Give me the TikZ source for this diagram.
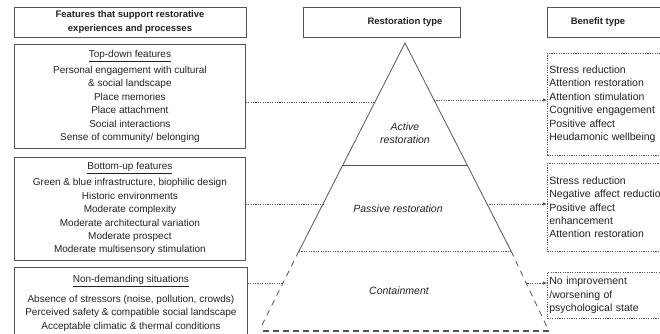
\documentclass[tikz,border=0pt]{standalone}
\usepackage{fontspec}
\setmainfont{Liberation Sans}
\usetikzlibrary{calc,arrows.meta}

\definecolor{linegray}{HTML}{555555}
\definecolor{textgray}{HTML}{222222}
\tikzstyle{headbox}=[draw=linegray, line width=0.8pt, minimum height=30pt, inner sep=0, anchor=north west]
\tikzstyle{headtext}=[text=textgray, font=\fontsize{9.5}{13.4}\selectfont\bfseries, align=center, inner sep=0]
\tikzstyle{featbox}=[draw=linegray, line width=0.8pt, text=textgray, align=center, inner sep=0, anchor=north west, minimum width=231pt, font=\fontsize{10}{13.4}\selectfont]
\tikzstyle{benefitbox}=[draw=linegray, line width=0.7pt, dash pattern=on 1.2pt off 1.2pt, text=textgray, align=left, text width=130pt, inner xsep=2pt, inner ysep=0, anchor=north west, font=\fontsize{10.5}{13.4}\selectfont]
\tikzstyle{level}=[text=textgray, font=\fontsize{10.5}{13.4}\selectfont\itshape, align=center, inner sep=0]
\tikzstyle{link}=[linegray, line width=0.7pt, dash pattern=on 1.2pt off 1.2pt]
\tikzstyle{edge}=[linegray, line width=0.8pt]

\begin{document}
\begin{tikzpicture}[x=1pt, y=-1pt]
\useasboundingbox (0,0) rectangle (660,333);
\clip (0,0) rectangle (660,333);

\node [headbox, minimum width=232pt] (feathead) at (14,7) {};
\node [headtext] (feattext) at (130,22) {Features that support restorative\\experiences and processes};
\node [headbox, minimum width=157pt] (resthead) at (303,7) {};
\node [headtext] (resttext) at (405,22) {Restoration type};
\node [headbox, minimum width=130pt] (benehead) at (547,7) {};
\node [headtext] (benetext) at (598,22) {Benefit type};

\node [featbox, minimum height=104pt] (topdown) at (14,44) {\underline{Top-down features}\\[2.6pt]
  Personal engagement with cultural\\ \& social landscape\\ Place memories\\ Place attachment\\
  Social interactions\\ Sense of community/ belonging};
\node [featbox, minimum height=103pt] (bottomup) at (14,157) {\underline{Bottom-up features}\\[2.6pt]
  Green \& blue infrastructure, biophilic design\\ Historic environments\\ Moderate complexity\\
  Moderate architectural variation\\ Moderate prospect\\ Moderate multisensory stimulation};
\node [featbox, minimum height=72pt, minimum width=233pt] (nondemand) at (14,267) {\underline{Non-demanding situations}\\[6.6pt]
  Absence of stressors (noise, pollution, crowds)\\ Perceived safety \& compatible social landscape\\
  Acceptable climatic \& thermal conditions};

\node [benefitbox, minimum height=102pt] (active) at (547,53) {Stress reduction\\ Attention restoration\\
  Attention stimulation\\ Cognitive engagement\\ Positive affect\\ Heudamonic wellbeing};
\node [benefitbox, minimum height=88pt] (passive) at (547,163) {Stress reduction\\ Negative affect reduction\\
  Positive affect\\ enhancement\\ Attention restoration};
\node [benefitbox, minimum height=46pt] (contain) at (547,272) {No improvement\\ /worsening of\\ psychological state};

\coordinate (apex) at (405,43);
\coordinate (midL) at (343,165);
\coordinate (midR) at (467,165);
\coordinate (passL) at (299,251);
\coordinate (passR) at (511,251);
\coordinate (baseL) at (261,327);
\coordinate (baseR) at (547,327);

\draw [edge] (passL) -- (apex) -- (passR);
\draw [edge] (midL) -- (midR);
\draw [link] (passL) -- (passR);
\draw [edge, dash pattern=on 6pt off 5pt] (passL) -- (baseL);
\draw [edge, dash pattern=on 6pt off 5pt] (passR) -- (baseR);
\draw [linegray, line width=1.2pt, dash pattern=on 6pt off 4pt] (263,331) -- (549,331);

\node [level] (activetext) at (405,133) {Active\\restoration};
\node [level] (passivetext) at (398,209) {Passive restoration};
\node [level] (containtext) at (399,291) {Containment};

\coordinate (tdL) at ($(apex)!0.284!(passL)$);
\coordinate (tdR) at ($(apex)!0.274!(passR)$);
\coordinate (buL) at ($(apex)!0.774!(passL)$);
\coordinate (buR) at ($(apex)!0.774!(passR)$);
\coordinate (ndL) at ($(apex)!1.154!(passL)$);
\coordinate (ndR) at ($(apex)!1.154!(passR)$);

\draw [link] (topdown.east |- tdL) -- (tdL);
\draw [link, -{Latex[length=4pt,width=3.5pt]}] (tdR) -- (active.west |- tdR);
\draw [link] (bottomup.east |- buL) -- (buL);
\draw [link, -{Latex[length=4pt,width=3.5pt]}] (buR) -- (passive.west |- buR);
\draw [link] (nondemand.east |- ndL) -- (ndL);
\draw [link, -{Latex[length=4pt,width=3.5pt]}] (ndR) -- (contain.west |- ndR);

\end{tikzpicture}
\end{document}
